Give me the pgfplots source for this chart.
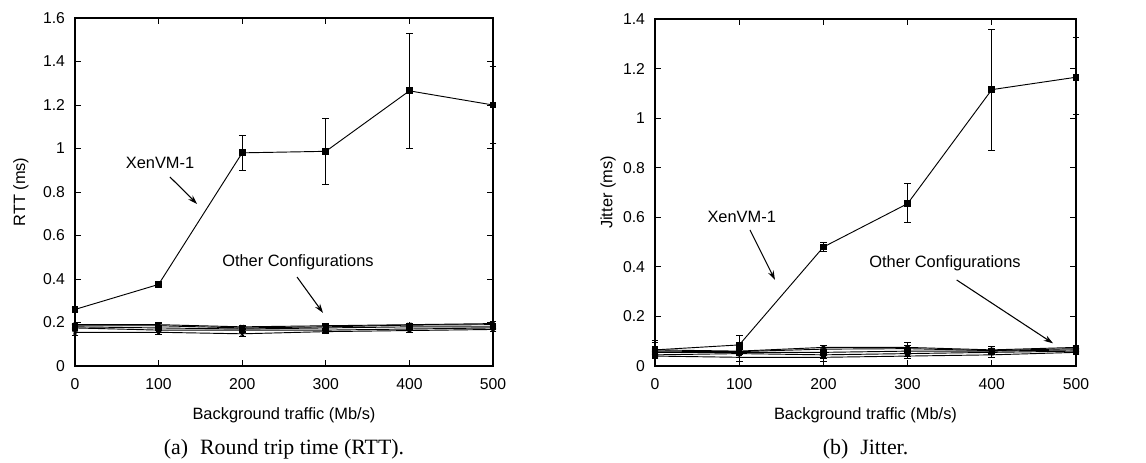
\documentclass[border=0pt]{standalone}
\usepackage{fontspec}
\setmainfont{Liberation Sans}
\newfontfamily\capfont{Liberation Serif}
\usepackage{pgfplots}
\pgfplotsset{compat=1.18}
\usetikzlibrary{arrows.meta}

\tikzset{
  note/.style={font=\fontsize{12.3}{14}\selectfont},
  arr/.style={-{Stealth[length=7pt,width=4.5pt]}, line width=0.8pt},
}
\pgfplotsset{
  myax/.style={
    scale only axis,
    xmin=0, xmax=500, ymin=0,
    xtick={0,100,...,500},
    axis line style={line width=0.9pt},
    major tick length=4.5pt,
    tick style={line width=0.6pt, black},
    /pgf/number format/assume math mode=true,
    tick label style={font=\fontsize{11.8}{13}\selectfont},
    label style={font=\fontsize{12.3}{14}\selectfont},
    xticklabel style={anchor=base, yshift=-18pt},
    yticklabel style={xshift=-4pt},
    xlabel style={at={(axis description cs:0.5,0)}, anchor=base, yshift=-40.5pt},
    clip=false,
  },
  ser/.style={black, solid, line width=0.7pt, mark size=2pt,
      mark options={solid, fill=black},
      error bars/y dir=both, error bars/y explicit,
      error bars/error bar style={line width=0.6pt, black},
      error bars/error mark options={rotate=90, mark size=2.5pt, line width=0.6pt, black}},
}

\begin{document}
\begin{tikzpicture}
% ---------------- (a) RTT ----------------
\begin{axis}[myax, width=313.5pt, height=261pt, ymax=1.6,
  ytick={0,0.2,...,1.6},
  xlabel={Background traffic (Mb/s)}, ylabel={RTT (ms)},
  ylabel style={at={(axis description cs:-0.1196,0.5)}, anchor=base}]
\addplot[ser, mark=square*, mark size=2.2pt] coordinates {
 (0,0.26) += (0,0.01) -= (0,0.01)
 (100,0.375) += (0,0.012) -= (0,0.012)
 (200,0.98) += (0,0.08) -= (0,0.08)
 (300,0.987) += (0,0.153) -= (0,0.152)
 (400,1.265) += (0,0.265) -= (0,0.265)
 (500,1.20) += (0,0.176) -= (0,0.176)
};
\addplot[ser, mark=x] coordinates {
 (0,0.19) += (0,0.008) -= (0,0.008)
 (100,0.19) += (0,0.01) -= (0,0.01)
 (200,0.18) += (0,0.008) -= (0,0.008)
 (300,0.185) += (0,0.01) -= (0,0.01)
 (400,0.19) += (0,0.008) -= (0,0.008)
 (500,0.195) += (0,0.008) -= (0,0.008)
};
\addplot[ser, mark=+] coordinates {
 (0,0.185) += (0,0.008) -= (0,0.008)
 (100,0.185) += (0,0.01) -= (0,0.01)
 (200,0.175) += (0,0.008) -= (0,0.008)
 (300,0.18) += (0,0.01) -= (0,0.01)
 (400,0.188) += (0,0.008) -= (0,0.008)
 (500,0.19) += (0,0.008) -= (0,0.008)
};
\addplot[ser, mark=square*] coordinates {
 (0,0.18) += (0,0.01) -= (0,0.01)
 (100,0.175) += (0,0.01) -= (0,0.01)
 (200,0.17) += (0,0.01) -= (0,0.01)
 (300,0.175) += (0,0.01) -= (0,0.01)
 (400,0.18) += (0,0.008) -= (0,0.008)
 (500,0.18) += (0,0.008) -= (0,0.008)
};
\addplot[ser, mark=*] coordinates {
 (0,0.175) += (0,0.01) -= (0,0.01)
 (100,0.165) += (0,0.01) -= (0,0.01)
 (200,0.165) += (0,0.01) -= (0,0.01)
 (300,0.165) += (0,0.01) -= (0,0.01)
 (400,0.17) += (0,0.008) -= (0,0.008)
 (500,0.175) += (0,0.008) -= (0,0.008)
};
\addplot[ser, mark=star] coordinates {
 (0,0.155) += (0,0.015) -= (0,0.015)
 (100,0.155) += (0,0.01) -= (0,0.01)
 (200,0.148) += (0,0.01) -= (0,0.01)
 (300,0.158) += (0,0.008) -= (0,0.008)
 (400,0.163) += (0,0.008) -= (0,0.008)
 (500,0.168) += (0,0.008) -= (0,0.008)
};
\node[note] at (axis cs:101.7,0.933) {XenVM-1};
\draw[arr] (axis cs:113.6,0.869) -- (axis cs:146,0.745);
\node[note] at (axis cs:266.7,0.478) {Other Configurations};
\draw[arr] (axis cs:265.6,0.409) -- (axis cs:296.7,0.244);
\end{axis}
% ---------------- (b) Jitter ----------------
\begin{axis}[myax, at={(435pt,0pt)}, width=315.75pt, height=260.25pt, ymax=1.4,
  ytick={0,0.2,...,1.4},
  xlabel={Background traffic (Mb/s)}, ylabel={Jitter (ms)},
  ylabel style={at={(axis description cs:-0.1013,0.5)}, anchor=base}]
\addplot[ser, mark=square*, mark size=2.2pt] coordinates {
 (0,0.065) += (0,0.03) -= (0,0.02)
 (100,0.085) += (0,0.04) -= (0,0.025)
 (200,0.48) += (0,0.02) -= (0,0.018)
 (300,0.655) += (0,0.08) -= (0,0.075)
 (400,1.115) += (0,0.245) -= (0,0.245)
 (500,1.165) += (0,0.16) -= (0,0.15)
};
\addplot[ser, mark=x] coordinates {
 (0,0.065) += (0,0.04) -= (0,0.02)
 (100,0.06) += (0,0.01) -= (0,0.01)
 (200,0.075) += (0,0.01) -= (0,0.01)
 (300,0.075) += (0,0.02) -= (0,0.015)
 (400,0.065) += (0,0.015) -= (0,0.01)
 (500,0.075) += (0,0.01) -= (0,0.01)
};
\addplot[ser, mark=o, mark options={fill=white}] coordinates {
 (0,0.06) += (0,0.01) -= (0,0.01)
 (100,0.058) += (0,0.01) -= (0,0.01)
 (200,0.068) += (0,0.015) -= (0,0.015)
 (300,0.07) += (0,0.015) -= (0,0.015)
 (400,0.062) += (0,0.01) -= (0,0.01)
 (500,0.07) += (0,0.01) -= (0,0.01)
};
\addplot[ser, mark=square*] coordinates {
 (0,0.055) += (0,0.01) -= (0,0.01)
 (100,0.055) += (0,0.01) -= (0,0.01)
 (200,0.055) += (0,0.01) -= (0,0.01)
 (300,0.06) += (0,0.01) -= (0,0.01)
 (400,0.06) += (0,0.01) -= (0,0.01)
 (500,0.065) += (0,0.01) -= (0,0.01)
};
\addplot[ser, mark=*] coordinates {
 (0,0.045) += (0,0.01) -= (0,0.01)
 (100,0.05) += (0,0.015) -= (0,0.015)
 (200,0.045) += (0,0.015) -= (0,0.015)
 (300,0.05) += (0,0.01) -= (0,0.01)
 (400,0.055) += (0,0.01) -= (0,0.01)
 (500,0.06) += (0,0.01) -= (0,0.01)
};
\addplot[ser, mark=+] coordinates {
 (0,0.04) += (0,0.01) -= (0,0.01)
 (100,0.035) += (0,0.015) -= (0,0.015)
 (200,0.035) += (0,0.015) -= (0,0.015)
 (300,0.04) += (0,0.01) -= (0,0.01)
 (400,0.045) += (0,0.01) -= (0,0.01)
 (500,0.055) += (0,0.01) -= (0,0.01)
};
\node[note] at (axis cs:103,0.602) {XenVM-1};
\draw[arr] (axis cs:112.8,0.549) -- (axis cs:142.5,0.347);
\node[note] at (axis cs:344.4,0.414) {Other Configurations};
\draw[arr] (axis cs:358.3,0.347) -- (axis cs:472.7,0.0915);
\end{axis}
% captions
\node[anchor=base, font=\capfont\fontsize{16.4}{19}\selectfont] at (156.75pt,-66.75pt) {(a)\hspace{0.55em}Round trip time (RTT).};
\node[anchor=base, font=\capfont\fontsize{16.4}{19}\selectfont] at (592.9pt,-66.75pt) {(b)\hspace{0.55em}Jitter.};
\pgfresetboundingbox
\path[use as bounding box] (-56.25pt,-72.75pt) rectangle (803.25pt,274.5pt);
\end{tikzpicture}
\end{document}
